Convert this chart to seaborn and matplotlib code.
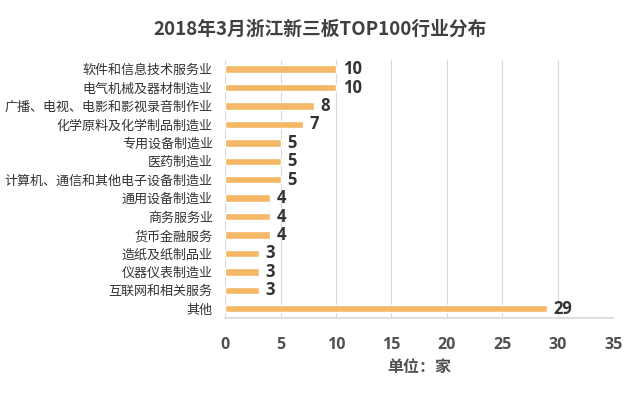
import numpy as np
import pandas as pd
import seaborn as sns
import matplotlib.pyplot as plt

industries = ['软件和信息技术服务业', '电气机械及器材制造业', '广播、电视、电影和影视录音制作业',
              '化学原料及化学制品制造业', '专用设备制造业', '医药制造业',
              '计算机、通信和其他电子设备制造业', '通用设备制造业', '商务服务业', '货币金融服务',
              '造纸及纸制品业', '仪器仪表制造业', '互联网和相关服务', '其他']
counts = [10, 10, 8, 7, 5, 5, 5, 4, 4, 4, 3, 3, 3, 29]
xticks = [0, 5, 10, 15, 20, 25, 30, 35]

sns.set_theme(style='white')
plt.rcParams['font.family'] = ['Noto Sans CJK SC', 'DejaVu Sans']
num_font = ['Open Sans', 'DejaVu Sans']

df = pd.DataFrame({'industry': industries, 'count': counts})

fig = plt.figure(figsize=(6.4, 3.99), dpi=100)
ax = fig.add_axes([0.352, 0.203, 0.606, 0.647])
sns.barplot(data=df, x='count', y='industry', orient='h', color='#F4B867',
            saturation=1, width=0.4, ax=ax)

ax.set_xlim(0, 35)
ax.set_ylim(len(industries) - 0.5, -0.5)
ax.set_xticks(xticks)
ax.set_xticklabels([str(t) for t in xticks], fontsize=11.5, fontweight='bold',
                   color='#505050', family=num_font)
ax.tick_params(axis='x', length=3, color='#d9d9d9', pad=11)
ax.tick_params(axis='y', length=0, pad=9)
for lab in ax.get_yticklabels():
    lab.set_fontsize(9.4)
    lab.set_color('#333333')
ax.grid(axis='x', color='#d9d9d9', linewidth=0.8)
ax.set_axisbelow(True)
for s in ['top', 'right', 'left']:
    ax.spines[s].set_visible(False)
ax.spines['bottom'].set_color('#d9d9d9')

for i, v in enumerate(counts):
    ax.text(v + 0.6, i, str(v), va='center', ha='left', fontsize=12,
            fontweight='bold', color='#333333', family=num_font)

ax.set_ylabel('')
ax.set_xlabel('单位：家', fontsize=11.5, fontweight='bold', color='#505050', labelpad=4)
fig.suptitle('2018年3月浙江新三板TOP100行业分布', x=0.5, y=0.95, fontsize=13.5,
             fontweight='bold', color='#404040')

fig.savefig('out.png', dpi=100)
